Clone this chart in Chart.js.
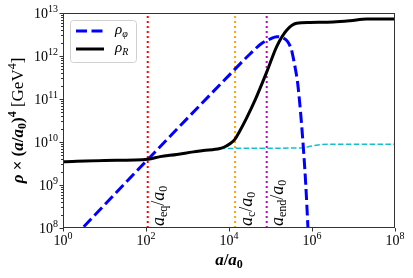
<!DOCTYPE html>
<html><head><meta charset="utf-8">
<script src="https://cdn.jsdelivr.net/npm/chart.js@4.4.1/dist/chart.umd.min.js"></script>
<style>html,body{margin:0;padding:0;background:#fff;overflow:hidden}canvas{display:block}</style>
</head><body>
<canvas id="c" width="413" height="278"></canvas>
<script>
// ---- data (a/a0, rho*(a/a0)^4 in GeV^4) ----
const rhoPhiA = [3.16, 1.12e2, 1.0e4, 3.16e4, 6.31e4, 1.0e5, 1.41e5, 2.0e5, 2.51e5, 3.16e5, 3.55e5, 3.98e5, 4.47e5, 5.01e5, 5.62e5, 6.31e5, 7.08e5, 7.94e5, 8.32e5];
const rhoPhiV = [1.07e8, 3.98e9, 3.55e11, 1.1e12, 2.0e12, 2.51e12, 2.82e12, 2.63e12, 2.24e12, 1.45e12, 8.9e11, 5.0e11, 2.51e11, 8.9e10, 2.51e10, 5.62e9, 1.0e9, 1.12e8, 4.0e7];
const rhoRA = [1, 10, 1.12e2, 2.19e2, 5.5e2, 1.38e3, 2.4e3, 6.03e3, 7.94e3, 1.05e4, 1.38e4, 1.78e4, 2.63e4, 4.27e4, 8.13e4, 1.41e5, 2.45e5, 4.27e5, 8.91e5, 3.24e6, 8.32e6, 2.09e7, 1.0e8];
const rhoRV = [3.47e9, 3.72e9, 3.98e9, 4.57e9, 5.13e9, 5.89e9, 6.31e9, 7.08e9, 7.76e9, 9.12e9, 1.15e10, 1.74e10, 3.55e10, 9.55e10, 4.27e11, 1.66e12, 3.98e12, 5.75e12, 6.03e12, 6.17e12, 6.61e12, 7.24e12, 7.24e12];
const rhoCA = [6.03e3, 6.17e5, 8.91e5, 1.58e6, 2.51e6, 1.0e8];
const rhoCV = [7.08e9, 7.24e9, 7.94e9, 8.71e9, 8.91e9, 8.91e9];
const markerSubs = ['eq', 'c', 'end'];
const markerA = [1.1e2, 1.4e4, 8.1e4];
const xTickExps = [0, 2, 4, 6, 8];
const yTickExps = [8, 9, 10, 11, 12, 13];
const legendSubs = ['φ', 'R'];

const FF = '"Liberation Serif","DejaVu Serif",serif';
const toPts = (xs, ys) => xs.map((x, i) => ({x, y: ys[i]}));
const markerColors = ['#ff0000', '#ffa500', '#bf00bf'];

const datasets = [
  {data: toPts(rhoPhiA, rhoPhiV), borderColor: '#0000ff', borderWidth: 3, borderDash: [11, 4.5], cubicInterpolationMode: 'monotone', order: 1, clip: 0},
  {data: toPts(rhoRA, rhoRV), borderColor: '#000000', borderWidth: 3, cubicInterpolationMode: 'monotone', order: 0, clip: 0},
  {data: toPts(rhoCA, rhoCV), borderColor: '#17becf', borderWidth: 1.5, borderDash: [5.5, 2.4], tension: 0, order: 2, clip: 0}
];
markerA.forEach((a, i) => datasets.push({data: [{x: a, y: 1e8}, {x: a, y: 1e13}], borderColor: markerColors[i], borderWidth: 2, borderDash: [2, 3], order: 3, clip: 0}));

function drawRich(ctx, segs, x, y, align) {
  let w = 0;
  for (const g of segs) { ctx.font = g.font; w += ctx.measureText(g.t).width; }
  let cx = align === 'center' ? x - w / 2 : (align === 'right' ? x - w : x);
  ctx.textAlign = 'left'; ctx.textBaseline = 'alphabetic';
  for (const g of segs) { ctx.font = g.font; ctx.fillText(g.t, cx, y + (g.dy || 0)); cx += ctx.measureText(g.t).width; }
  return w;
}

const mplPlugin = {
  id: 'mpl',
  afterDraw(chart) {
    const ctx = chart.ctx, xs = chart.scales.x, ys = chart.scales.y, ca = chart.chartArea;
    ctx.save();
    ctx.fillStyle = '#000';
    // frame
    ctx.strokeStyle = '#333'; ctx.lineWidth = 1;
    ctx.strokeRect(Math.round(ca.left) + 0.5, Math.round(ca.top) + 0.5, Math.round(ca.right - ca.left) - 1, Math.round(ca.bottom - ca.top) - 1);
    // x ticks
    ctx.beginPath();
    xTickExps.forEach(e => { const px = Math.round(xs.getPixelForValue(Math.pow(10, e))) + 0.5; ctx.moveTo(px, ca.bottom); ctx.lineTo(px, ca.bottom + 3.5); });
    // y ticks major + minor
    yTickExps.forEach((e, k) => {
      const py = Math.round(ys.getPixelForValue(Math.pow(10, e))) + 0.5; ctx.moveTo(ca.left, py); ctx.lineTo(ca.left - 3.5, py);
      if (k < yTickExps.length - 1) for (let m = 2; m <= 9; m++) { const q = Math.round(ys.getPixelForValue(m * Math.pow(10, e))) + 0.5; ctx.moveTo(ca.left, q); ctx.lineTo(ca.left - 2, q); }
    });
    ctx.stroke();
    // x tick labels
    xTickExps.forEach(e => {
      const px = xs.getPixelForValue(Math.pow(10, e));
      drawRich(ctx, [{t: '10', font: '14px ' + FF}, {t: String(e), font: '10px ' + FF, dy: -6}], px, ca.bottom + 17, 'center');
    });
    // y tick labels
    yTickExps.forEach(e => {
      const py = ys.getPixelForValue(Math.pow(10, e));
      drawRich(ctx, [{t: '10', font: '14px ' + FF}, {t: String(e), font: '10px ' + FF, dy: -6}], ca.left - 5, py + 5, 'right');
    });
    // x label
    const bi = 'bold italic 17px ' + FF, b = 'bold 17px ' + FF;
    drawRich(ctx, [{t: 'a', font: bi}, {t: '/', font: b}, {t: 'a', font: bi}, {t: '0', font: 'bold 12px ' + FF, dy: 3}], (ca.left + ca.right) / 2, 265, 'center');
    // y label
    ctx.save();
    ctx.translate(22.5, (ca.top + ca.bottom) / 2); ctx.rotate(-Math.PI / 2);
    drawRich(ctx, [
      {t: 'ρ', font: bi}, {t: ' × (', font: b}, {t: 'a', font: bi}, {t: '/', font: b}, {t: 'a', font: bi},
      {t: '0', font: 'bold 12px ' + FF, dy: 3}, {t: ')', font: b}, {t: '4', font: 'bold 12px ' + FF, dy: -7},
      {t: ' [GeV', font: '17px ' + FF}, {t: '4', font: '12px ' + FF, dy: -7}, {t: ']', font: '17px ' + FF}
    ], 0, 0, 'center');
    ctx.restore();
    // marker annotations
    markerA.forEach((a, i) => {
      const px = xs.getPixelForValue(a);
      ctx.save();
      ctx.translate(px + 16.5, ca.bottom - 2); ctx.rotate(-Math.PI / 2);
      drawRich(ctx, [{t: 'a', font: 'italic 18px ' + FF}, {t: markerSubs[i], font: '12px ' + FF, dy: 3},
        {t: '/', font: '18px ' + FF}, {t: 'a', font: 'italic 18px ' + FF}, {t: '0', font: '12px ' + FF, dy: 3}], 0, 0, 'left');
      ctx.restore();
    });
    // legend
    const lx = 70.5, ly = 20.5, lw = 66, lh = 42, r = 3;
    ctx.beginPath();
    ctx.moveTo(lx + r, ly); ctx.lineTo(lx + lw - r, ly); ctx.arcTo(lx + lw, ly, lx + lw, ly + r, r);
    ctx.lineTo(lx + lw, ly + lh - r); ctx.arcTo(lx + lw, ly + lh, lx + lw - r, ly + lh, r);
    ctx.lineTo(lx + r, ly + lh); ctx.arcTo(lx, ly + lh, lx, ly + lh - r, r);
    ctx.lineTo(lx, ly + r); ctx.arcTo(lx, ly, lx + r, ly, r); ctx.closePath();
    ctx.fillStyle = 'rgba(255,255,255,0.8)'; ctx.fill();
    ctx.strokeStyle = '#d0d0d0'; ctx.lineWidth = 1; ctx.stroke();
    [0, 1].forEach(i => {
      const ds = chart.data.datasets[i], yy = 31 + i * 18;
      ctx.beginPath(); ctx.strokeStyle = ds.borderColor; ctx.lineWidth = 3; ctx.setLineDash(ds.borderDash || []);
      ctx.moveTo(76, yy); ctx.lineTo(104, yy); ctx.stroke(); ctx.setLineDash([]);
      ctx.fillStyle = '#000';
      drawRich(ctx, [{t: 'ρ', font: 'italic 15px ' + FF}, {t: legendSubs[i], font: 'italic 10px ' + FF, dy: 3}], 115, yy + 3, 'left');
    });
    ctx.restore();
  }
};

new Chart(document.getElementById('c'), {
  type: 'line',
  data: {datasets},
  options: {
    responsive: false, animation: false, devicePixelRatio: 1,
    layout: {padding: {left: 63, right: 18, top: 13, bottom: 50}},
    plugins: {legend: {display: false}, tooltip: {enabled: false}},
    elements: {point: {radius: 0}},
    scales: {
      x: {type: 'logarithmic', min: 1, max: 1e8, display: false},
      y: {type: 'logarithmic', min: 1e8, max: 1e13, display: false}
    }
  },
  plugins: [mplPlugin]
});
</script>
</body></html>
